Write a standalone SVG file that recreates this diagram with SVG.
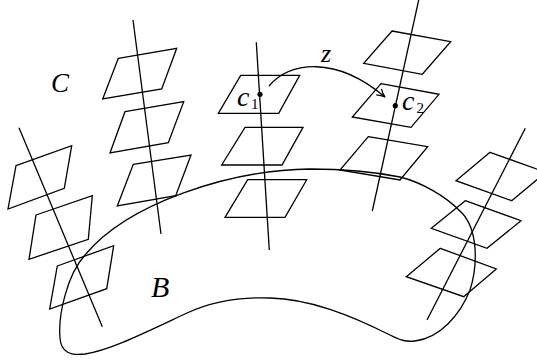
<svg xmlns="http://www.w3.org/2000/svg" width="537" height="360" viewBox="0 0 537 360">
<style>
.s{fill:none;stroke:#000;stroke-width:1.3;stroke-linejoin:miter}
.m{font-family:"Liberation Serif",serif;font-style:italic;fill:#000}
.n{font-family:"Liberation Serif",serif;fill:#000}
</style>
<defs>
<marker id="ah" markerWidth="12" markerHeight="12" refX="9" refY="5" orient="auto" markerUnits="userSpaceOnUse">
<path d="M1,1 Q5,4 9,5 Q5,6 1,9" fill="none" stroke="#000" stroke-width="1.3"/>
</marker>
</defs>
<rect width="537" height="360" fill="#fff"/>
<g id="base">
<path class="s" d="M310,169 C230,170 128,203 85,255 C67,275 58,315 60,338 C61,352 70,356 85,354 C110,350 140,335 187,313 C215,300 245,297 270,298 C310,299 350,315 390,335 C400,340 405,342 415,341 C440,338 460,315 470,290 C478,265 478,230 462,213 C445,195 420,182 400,177 C370,171 340,169 310,169 Z"/>
<text class="m" x="151" y="297" font-size="30">B</text>
</g>
<g id="fiber1">
<line class="s" x1="19" y1="127.7" x2="102.3" y2="326.7"/>
<polygon class="s" points="16,165.7 71.7,145.7 64.3,188.3 8,209"/>
<polygon class="s" points="36,215 92.3,195.7 88.3,239.3 29,259.3"/>
<polygon class="s" points="57.3,266 113.7,245.7 106.7,288.7 49.7,309"/>
</g>
<g id="fiber2">
<line class="s" x1="133" y1="20" x2="161" y2="234"/>
<polygon class="s" points="118.3,58.3 176.7,48.3 161.7,89 102.7,99"/>
<polygon class="s" points="125,111.7 183.7,101.7 168.3,142.7 110,153"/>
<polygon class="s" points="133.3,164.3 191,155 175.7,195.7 117.3,206"/>
</g>
<g id="fiber3">
<line class="s" x1="256.3" y1="42.3" x2="269.3" y2="250"/>
<polygon class="s" points="240.7,75.3 299.7,75.3 278.7,113.3 218.3,113.3"/>
<polygon class="s" points="245,127.3 303,127.3 282,165 221.7,165"/>
<polygon class="s" points="247.7,179.7 306.7,179.7 285,217.3 225,217.3"/>
<circle cx="260" cy="94.3" r="2.6" fill="#000"/>
<text class="m" x="237" y="106" font-size="28">c</text>
<text class="n" x="251" y="108.5" font-size="15">1</text>
</g>
<g id="fiber4">
<line class="s" x1="419.8" y1="-5" x2="372.3" y2="211"/>
<polygon class="s" points="392,31 450.7,41.7 422.3,74.3 363.7,63.3"/>
<polygon class="s" points="381,83.7 439,94.3 411,127.3 352.3,117"/>
<polygon class="s" points="368.3,136.7 427.7,146.7 400,180 340,170"/>
<circle cx="395.3" cy="105.7" r="2.6" fill="#000"/>
<text class="m" x="402" y="110" font-size="28">c</text>
<text class="n" x="416.5" y="113" font-size="15">2</text>
</g>
<g id="fiber5">
<line class="s" x1="525.3" y1="128.3" x2="427" y2="320"/>
<polygon class="s" points="490,152.3 545.7,172.3 511.7,200.7 456,180.7"/>
<polygon class="s" points="465.3,200.7 521,220.7 487,248.3 431.3,228.3"/>
<polygon class="s" points="440.3,248.3 496.3,269 463.7,296.7 406.3,276.7"/>
</g>
<g id="total">
<text class="m" x="51" y="92" font-size="27">C</text>
</g>
<g id="connectors">
<path class="s" d="M269,86 C290,62 335,55 385,97" marker-end="url(#ah)"/>
<text class="m" x="321" y="62" font-size="26">z</text>
</g>
</svg>
